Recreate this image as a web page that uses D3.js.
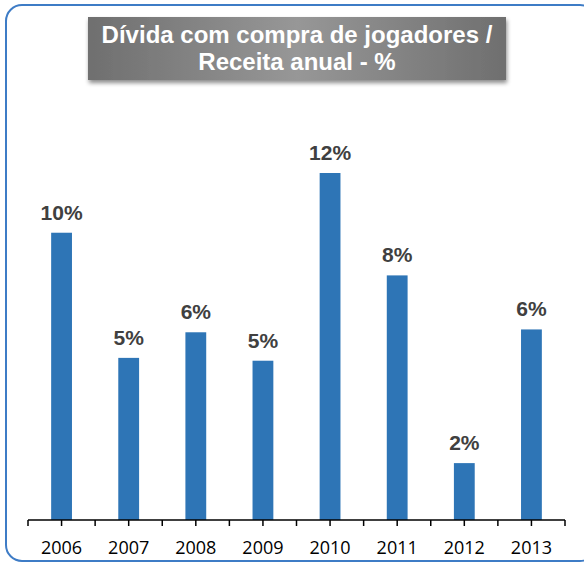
<!DOCTYPE html>
<html>
<head>
<meta charset="utf-8">
<script src="https://cdn.jsdelivr.net/npm/d3@7"></script>
<style>
  body { margin: 0; background: #fff; }
</style>
</head>
<body>
<div id="chart"></div>
<script>
(function () {
    // Data
    const years = ["2006", "2007", "2008", "2009", "2010", "2011", "2012", "2013"];
    const values = [10.1, 5.7, 6.6, 5.6, 12.2, 8.6, 2.0, 6.7];
    const labels = ["10%", "5%", "6%", "5%", "12%", "8%", "2%", "6%"];
    const titleLines = ["Dívida com compra de jogadores /", "Receita anual - %"];

    const W = 584, H = 565;

    const svg = d3.select("#chart")
      .append("svg")
        .attr("width", W)
        .attr("height", H);

    const defs = svg.append("defs");

    // grey title box gradient (darker at the sides)
    const grad = defs.append("linearGradient")
        .attr("id", "titleGrad")
        .attr("x1", "0%").attr("x2", "100%")
        .attr("y1", "0%").attr("y2", "0%");
    grad.append("stop").attr("offset", "0%").attr("stop-color", "#6f6f6f");
    grad.append("stop").attr("offset", "50%").attr("stop-color", "#979797");
    grad.append("stop").attr("offset", "100%").attr("stop-color", "#6f6f6f");

    const shadow = defs.append("filter")
        .attr("id", "boxShadow")
        .attr("x", "-10%").attr("y", "-20%")
        .attr("width", "120%").attr("height", "150%");
    shadow.append("feDropShadow")
        .attr("dx", 1).attr("dy", 3)
        .attr("stdDeviation", 2)
        .attr("flood-color", "#000")
        .attr("flood-opacity", 0.45);

    // outer rounded frame
    svg.append("rect")
        .attr("x", 6)
        .attr("y", 5)
        .attr("width", 590)
        .attr("height", 556)
        .attr("rx", 16)
        .attr("fill", "none")
        .attr("stroke", "#3e7cc6")
        .attr("stroke-width", 2);

    // title box
    svg.append("rect")
        .attr("x", 88)
        .attr("y", 17)
        .attr("width", 418)
        .attr("height", 63)
        .attr("fill", "url(#titleGrad)")
        .attr("filter", "url(#boxShadow)");

    svg.append("text")
        .attr("x", 297)
        .attr("y", 43)
        .attr("text-anchor", "middle")
        .style("font-family", "'Liberation Sans', Arial, sans-serif")
        .style("font-weight", "bold")
        .style("font-size", "24px")
        .style("fill", "#fff")
        .selectAll("tspan")
        .data(titleLines)
        .enter()
        .append("tspan")
          .attr("x", 297)
          .attr("dy", (d, i) => i === 0 ? 0 : 27)
          .text(d => d);

    // scales
    const x = d3.scaleBand()
        .domain(years)
        .range([28, 565]);

    const y = d3.scaleLinear()
        .domain([0, 12.2])
        .range([520, 173]);

    const barW = x.bandwidth() * 0.31;

    // bars
    svg.append("g")
      .selectAll("rect")
      .data(years)
      .enter()
      .append("rect")
        .attr("x", (d) => x(d) + x.bandwidth() / 2 - barW / 2)
        .attr("y", (d, i) => y(values[i]))
        .attr("width", barW)
        .attr("height", (d, i) => y(0) - y(values[i]))
        .attr("fill", "#2e75b6");

    // value labels
    svg.append("g")
      .selectAll("text")
      .data(years)
      .enter()
      .append("text")
        .attr("x", (d) => x(d) + x.bandwidth() / 2)
        .attr("y", (d, i) => y(values[i]) - 13)
        .attr("text-anchor", "middle")
        .style("font-family", "'Liberation Sans', Arial, sans-serif")
        .style("font-weight", "bold")
        .style("font-size", "21px")
        .style("fill", "#404040")
        .text((d, i) => labels[i]);

    // x axis: ticks on the category boundaries and centres
    const axis = svg.append("g")
        .attr("transform", "translate(0,520)");

    axis.append("line")
        .attr("x1", 28).attr("x2", 565)
        .attr("y1", 0).attr("y2", 0)
        .attr("stroke", "#000")
        .attr("stroke-width", 1.5);

    const tickPos = years.map(d => x(d)).concat([565])
        .concat(years.map(d => x(d) + x.bandwidth() / 2));

    axis.selectAll(".tick")
      .data(tickPos)
      .enter()
      .append("line")
        .attr("x1", d => d).attr("x2", d => d)
        .attr("y1", 0).attr("y2", 6)
        .attr("stroke", "#000")
        .attr("stroke-width", 1.5);

    axis.selectAll(".lbl")
      .data(years)
      .enter()
      .append("text")
        .attr("x", d => x(d) + x.bandwidth() / 2)
        .attr("y", 34)
        .attr("text-anchor", "middle")
        .style("font-family", "'Open Sans', 'Liberation Sans', sans-serif")
        .style("font-size", "18px")
        .style("fill", "#000")
        .text(d => d);
})();
</script>
</body>
</html>
